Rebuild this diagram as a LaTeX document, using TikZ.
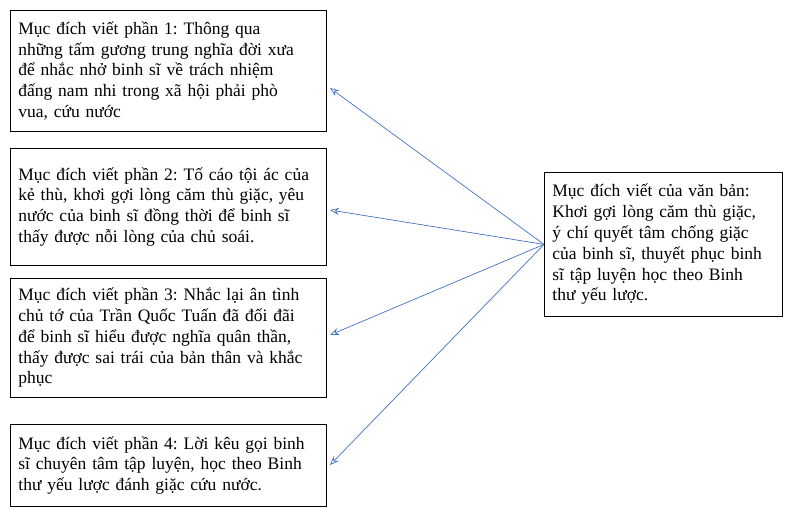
\documentclass[tikz,border=0pt]{standalone}
\usepackage{fontspec}
\setmainfont{Liberation Serif}
\usetikzlibrary{arrows.meta}
\definecolor{arr}{RGB}{68,114,196}
\frenchspacing
\begin{document}
\begin{tikzpicture}[x=1pt,y=-1pt,
  box/.style={draw,line width=0.8pt,anchor=north west,align=left,inner xsep=8pt,inner ysep=0pt,
    font=\fontsize{17.5}{20.8}\selectfont},
  conn/.style={draw=arr,line width=0.7pt,-{Stealth[length=9pt,width=7pt,open]}}]
\useasboundingbox (0,0) rectangle (796,515);
\node[box,text width=300pt,minimum width=316pt,minimum height=121pt] (b1) at (10,10) {Mục đích viết phần 1: Thông qua\\những tấm gương trung nghĩa đời xưa\\để nhắc nhở binh sĩ về trách nhiệm\\đấng nam nhi trong xã hội phải phò\\vua, cứu nước};
\node[box,text width=300pt,minimum width=316pt,minimum height=117pt] (b2) at (10,148) {Mục đích viết phần 2: Tố cáo tội ác của\\kẻ thù, khơi gợi lòng căm thù giặc, yêu\\nước của binh sĩ đồng thời để binh sĩ\\thấy được nỗi lòng của chủ soái.};
\node[box,text width=300pt,minimum width=316pt,minimum height=119pt] (b3) at (10,278) {Mục đích viết phần 3: Nhắc lại ân tình\\chủ tớ của Trần Quốc Tuấn đã đối đãi\\để binh sĩ hiểu được nghĩa quân thần,\\thấy được sai trái của bản thân và khắc\\phục};
\node[box,text width=300pt,minimum width=316pt,minimum height=82pt] (b4) at (10,424) {Mục đích viết phần 4: Lời kêu gọi binh\\sĩ chuyên tâm tập luyện, học theo Binh\\thư yếu lược đánh giặc cứu nước.};
\node[box,text width=222pt,minimum width=238pt,minimum height=144pt] (r) at (544,172) {Mục đích viết của văn bản:\\Khơi gợi lòng căm thù giặc,\\ý chí quyết tâm chống giặc\\của binh sĩ, thuyết phục binh\\sĩ tập luyện học theo Binh\\thư yếu lược.};
\coordinate (e1) at (330,88);
\coordinate (e2) at (330,210);
\coordinate (e3) at (330,335);
\coordinate (e4) at (330,465);
\foreach \e in {e1,e2,e3,e4} \draw[conn] (r.west) -- (\e);
\end{tikzpicture}
\end{document}
